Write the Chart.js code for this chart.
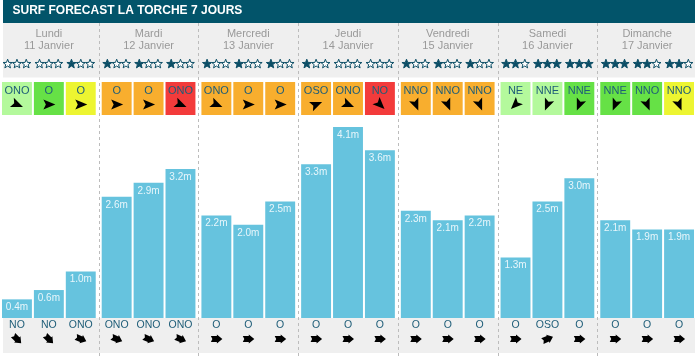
<!DOCTYPE html>
<html>
<head>
<meta charset="utf-8">
<script src="https://cdn.jsdelivr.net/npm/chart.js@4/dist/chart.umd.min.js"></script>
<style>
  html, body { margin: 0; padding: 0; background: #fff; overflow: hidden; }
  #wrap { position: absolute; left: -1px; top: 0; width: 698px; height: 356px; }
</style>
</head>
<body>
<div id="wrap"><canvas id="surfChart"></canvas></div>
<script>
// Forecast data (3 slots per day: matin, midi, soir)
const days = ['Lundi', 'Mardi', 'Mercredi', 'Jeudi', 'Vendredi', 'Samedi', 'Dimanche'];
const dates = ['11 Janvier', '12 Janvier', '13 Janvier', '14 Janvier', '15 Janvier', '16 Janvier', '17 Janvier'];
const slots = ['Matin', 'Midi', 'Soir'];

const waveHeights = [
    0.4, 0.6, 1.0,
    2.6, 2.9, 3.2,
    2.2, 2.0, 2.5,
    3.3, 4.1, 3.6,
    2.3, 2.1, 2.2,
    1.3, 2.5, 3.0,
    2.1, 1.9, 1.9
];
const stars = [
    0, 0, 1,
    1, 1, 1,
    1, 1, 1,
    1, 0, 0,
    1, 1, 1,
    2, 3, 3,
    3, 2, 2
];
const windDir = [
    'ONO', 'O', 'O',
    'O', 'O', 'ONO',
    'ONO', 'O', 'O',
    'OSO', 'ONO', 'NO',
    'NNO', 'NNO', 'NNO',
    'NE', 'NNE', 'NNE',
    'NNE', 'NNO', 'NNO'
];
// 0 = offshore faible ... 4 = onshore fort
const windRating = [
    0, 1, 2,
    3, 3, 4,
    3, 3, 3,
    3, 3, 4,
    3, 3, 3,
    0, 0, 1,
    1, 1, 2
];
const swellDir = [
    'NO', 'NO', 'ONO',
    'ONO', 'ONO', 'ONO',
    'O', 'O', 'O',
    'O', 'O', 'O',
    'O', 'O', 'O',
    'O', 'OSO', 'O',
    'O', 'O', 'O'
];

const ratingColors = ['#b4f99c', '#66e146', '#edf531', '#f8ae2e', '#f33b3b'];
const compass = ['N', 'NNE', 'NE', 'ENE', 'E', 'ESE', 'SE', 'SSE', 'S', 'SSO', 'SO', 'OSO', 'O', 'ONO', 'NO', 'NNO'];
const TEAL = '#1e5d78';
const STAR = '#0c4e66';
const FONT = '"Liberation Sans", Arial, sans-serif';

// rotation (radians) of an arrow pointing where the wind/swell goes
function towardAngle(dir) {
    const from = compass.indexOf(dir) * 22.5;
    return ((from + 180) - 90) * Math.PI / 180;
}

function drawStar(ctx, cx, cy, filled) {
    const ro = 4.8, ri = 2.0;
    ctx.beginPath();
    for (let i = 0; i < 10; i++) {
        const r = i % 2 === 0 ? ro : ri;
        const a = -Math.PI / 2 + i * Math.PI / 5;
        ctx.lineTo(cx + r * Math.cos(a), cy + r * Math.sin(a));
    }
    ctx.closePath();
    ctx.fillStyle = filled ? STAR : '#ffffff';
    ctx.fill();
    ctx.lineWidth = 1;
    ctx.strokeStyle = STAR;
    ctx.stroke();
}

function drawWindArrow(ctx, cx, cy, angle) {
    ctx.save();
    ctx.translate(cx, cy);
    ctx.rotate(angle);
    ctx.beginPath();
    ctx.moveTo(6.5, 0);
    ctx.lineTo(-5.5, -5);
    ctx.lineTo(-3, 0);
    ctx.lineTo(-5.5, 5);
    ctx.closePath();
    ctx.fillStyle = '#000';
    ctx.fill();
    ctx.restore();
}

function drawSwellArrow(ctx, cx, cy, angle) {
    ctx.save();
    ctx.translate(cx, cy);
    ctx.rotate(angle);
    ctx.beginPath();
    ctx.moveTo(-5.5, -3);
    ctx.lineTo(0.5, -3);
    ctx.lineTo(0.5, -4.5);
    ctx.lineTo(6, 0);
    ctx.lineTo(0.5, 4.5);
    ctx.lineTo(0.5, 3);
    ctx.lineTo(-5.5, 3);
    ctx.lineTo(-4, 0);
    ctx.closePath();
    ctx.fillStyle = '#000';
    ctx.fill();
    ctx.restore();
}

const surfDecor = {
    id: 'surfDecor',
    beforeDraw(chart) {
        const ctx = chart.ctx;
        const w = chart.width;
        const x = chart.scales.x;

        // title bar
        ctx.fillStyle = '#02546a';
        ctx.fillRect(4, 0, w, 23);
        ctx.font = 'bold 12px ' + FONT;
        ctx.fillStyle = '#ffffff';
        ctx.textAlign = 'left';
        ctx.textBaseline = 'middle';
        ctx.fillText('SURF FORECAST LA TORCHE 7 JOURS', 13.5, 11);

        // grey bands
        ctx.fillStyle = '#efefef';
        ctx.fillRect(4, 23, w, 54.5);
        ctx.fillRect(4, 318, w, 35);

        // day separators
        ctx.save();
        ctx.strokeStyle = '#bcbcbc';
        ctx.lineWidth = 1;
        ctx.setLineDash([3, 3]);
        for (let i = 1; i < days.length; i++) {
            const sx = Math.round((x.getPixelForValue(i - 1) + x.getPixelForValue(i)) / 2) + 0.5;
            ctx.beginPath();
            ctx.moveTo(sx, 23);
            ctx.lineTo(sx, 356);
            ctx.stroke();
        }
        ctx.restore();

        // day names and dates
        ctx.font = '11px ' + FONT;
        ctx.fillStyle = '#999999';
        ctx.textAlign = 'center';
        days.forEach((d, i) => {
            const cx = x.getPixelForValue(i);
            ctx.fillText(d, cx, 33.5);
            ctx.fillText(dates[i], cx, 45.5);
        });
    },
    afterDatasetsDraw(chart) {
        const ctx = chart.ctx;
        slots.forEach((s, k) => {
            const meta = chart.getDatasetMeta(k);
            meta.data.forEach((bar, d) => {
                const idx = d * 3 + k;
                const bx = bar.x, bw = bar.width;

                // stars
                for (let j = 0; j < 3; j++) {
                    drawStar(ctx, bx + (j - 1) * 9.3, 64, j < stars[idx]);
                }

                // wind box
                ctx.fillStyle = ratingColors[windRating[idx]];
                ctx.fillRect(bx - bw / 2, 82, bw, 33);
                ctx.font = '11px ' + FONT;
                ctx.fillStyle = TEAL;
                ctx.textAlign = 'center';
                ctx.textBaseline = 'middle';
                ctx.fillText(windDir[idx], bx, 90.5);
                drawWindArrow(ctx, bx, 104.5, towardAngle(windDir[idx]));

                // swell direction
                ctx.font = '10.5px ' + FONT;
                ctx.fillStyle = TEAL;
                ctx.fillText(swellDir[idx], bx, 325.5);
                drawSwellArrow(ctx, bx, 339, towardAngle(swellDir[idx]));

                // height label
                ctx.font = '10px ' + FONT;
                ctx.fillStyle = '#e8f6fb';
                ctx.fillText(waveHeights[idx].toFixed(1) + 'm', bx, bar.y + 8);
            });
        });
    }
};

const datasets = slots.map((s, k) => ({
    label: s,
    data: days.map((d, i) => waveHeights[i * 3 + k]),
    backgroundColor: '#66c3de',
    borderWidth: 0,
    categoryPercentage: 0.96,
    barPercentage: 0.9375
}));

new Chart(document.getElementById('surfChart').getContext('2d'), {
    type: 'bar',
    data: { labels: days, datasets: datasets },
    plugins: [surfDecor],
    options: {
        responsive: true,
        maintainAspectRatio: false,
        devicePixelRatio: 1,
        animation: false,
        layout: { padding: { top: 85, bottom: 38, left: 0, right: 0 } },
        plugins: {
            legend: { display: false },
            tooltip: { enabled: false }
        },
        scales: {
            x: { display: false },
            y: { display: false, min: 0, max: 5 }
        }
    }
});
</script>
</body>
</html>
